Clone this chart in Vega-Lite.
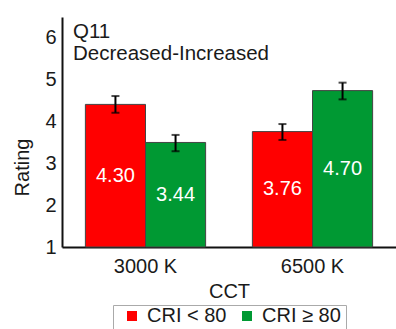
{
  "$schema": "https://vega.github.io/schema/vega-lite/v6.json",
  "width": 334,
  "height": 230,
  "autosize": {"type": "none"},
  "padding": {"left": 62, "top": 17, "right": 0, "bottom": 82},
  "background": "white",
  "config": {
    "font": "Liberation Sans",
    "view": {"stroke": null},
    "axis": {"labelColor": "#1a1a1a", "titleColor": "#1a1a1a", "domainColor": "#111", "domainWidth": 2, "ticks": false, "grid": false, "labelFontSize": 20, "titleFontSize": 20, "titleFontWeight": "normal"}
  },
  "title": {
    "text": ["Q11", "Decreased-Increased"],
    "anchor": "start",
    "frame": "group",
    "orient": "top",
    "baseline": "top",
    "offset": 0,
    "dx": 11,
    "dy": 47,
    "fontSize": 20.5,
    "fontWeight": "normal",
    "lineHeight": 22,
    "color": "#1a1a1a"
  },
  "data": {
    "values": [
      {"cct": "3000 K", "cri": "CRI < 80", "rating": 4.41, "lo": 4.21, "hi": 4.61, "label": "4.30"},
      {"cct": "3000 K", "cri": "CRI ≥ 80", "rating": 3.50, "lo": 3.29, "hi": 3.68, "label": "3.44"},
      {"cct": "6500 K", "cri": "CRI < 80", "rating": 3.76, "lo": 3.56, "hi": 3.94, "label": "3.76"},
      {"cct": "6500 K", "cri": "CRI ≥ 80", "rating": 4.74, "lo": 4.53, "hi": 4.93, "label": "4.70"}
    ]
  },
  "encoding": {
    "x": {"field": "cct", "type": "nominal", "title": "CCT", "scale": {"paddingInner": 0.28, "paddingOuter": 0.14}, "axis": {"labelAngle": 0, "labelPadding": 9, "titlePadding": 5}},
    "xOffset": {"field": "cri", "type": "nominal", "scale": {"domain": ["CRI < 80", "CRI ≥ 80"], "paddingInner": 0, "paddingOuter": 0}}
  },
  "layer": [
    {
      "layer": [
        {
          "mark": {"type": "bar", "stroke": "#444", "strokeWidth": 1},
          "encoding": {
            "y": {"field": "rating", "type": "quantitative", "title": "Rating", "scale": {"domain": [1, 6.5], "nice": false, "zero": false}, "axis": {"values": [1, 2, 3, 4, 5, 6], "labelPadding": 6, "titleX": -30, "titleY": 150}},
            "y2": {"datum": 1},
            "color": {"field": "cri", "type": "nominal", "scale": {"domain": ["CRI < 80", "CRI ≥ 80"], "range": ["#FF0000", "#009933"]}, "legend": {"title": null, "orient": "none", "legendX": 51, "legendY": 288, "direction": "horizontal", "symbolType": "square", "symbolSize": 100, "symbolStrokeWidth": 0, "symbolOffset": 4, "labelOffset": 5, "labelFontSize": 20, "labelColor": "#1a1a1a", "strokeColor": "#aaaaaa", "padding": 5, "clipHeight": 12, "columnPadding": 6}}
          }
        },
        {
          "mark": {"type": "rule", "color": "black", "strokeWidth": 2},
          "encoding": {
            "y": {"field": "lo", "type": "quantitative"},
            "y2": {"field": "hi"}
          }
        },
        {
          "mark": {"type": "tick", "color": "black", "size": 8, "thickness": 2, "orient": "horizontal"},
          "encoding": {"y": {"field": "lo", "type": "quantitative"}}
        },
        {
          "mark": {"type": "tick", "color": "black", "size": 8, "thickness": 2, "orient": "horizontal"},
          "encoding": {"y": {"field": "hi", "type": "quantitative"}}
        }
      ]
    },
    {
      "mark": {"type": "text", "color": "white", "fontSize": 20, "baseline": "middle"},
      "encoding": {
        "y": {"field": "rating", "type": "quantitative", "scale": {"domain": [1, 12], "nice": false, "zero": false}, "axis": null},
        "text": {"field": "label"}
      }
    }
  ],
  "resolve": {"scale": {"y": "independent"}}
}
